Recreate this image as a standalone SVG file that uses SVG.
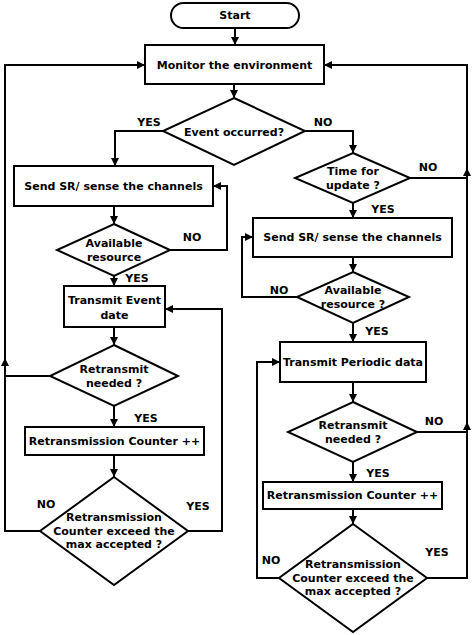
<svg xmlns="http://www.w3.org/2000/svg" width="474" height="635" viewBox="0 0 474 635">
<defs>
<marker id="ah" markerUnits="userSpaceOnUse" markerWidth="9" markerHeight="9" refX="8" refY="4" orient="auto">
<path d="M0,0 L8,4 L0,8 z" fill="#000"/>
</marker>
<style>
.s{fill:#fff;stroke:#000;stroke-width:2}
.c{fill:none;stroke:#000;stroke-width:2}
.a{marker-end:url(#ah)}
text{font-family:"DejaVu Sans",Verdana,sans-serif;font-weight:bold;font-size:11px;fill:#000;text-anchor:middle;dominant-baseline:central}
</style>
</defs>
<rect width="474" height="635" fill="#fff"/>
<g id="connectors">
<path class="c a" d="M235,28 V45"/>
<path class="c a" d="M234,84 V98"/>
<path class="c a" d="M163,131 H115 V166"/>
<path class="c a" d="M305,131 H353 V153"/>
<path class="c a" d="M114,206 V224"/>
<path class="c a" d="M170,250 H227 V186 H213"/>
<path class="c a" d="M114,276 V286"/>
<path class="c a" d="M114,327 V345"/>
<path class="c" d="M50,376 H5"/>
<path class="c a" d="M114,406 V427"/>
<path class="c a" d="M114,455 V477"/>
<path class="c a" d="M40,531 H5 V358"/>
<path class="c a" d="M5,362 V65 H145"/>
<path class="c a" d="M188,531 H222 V309 H165"/>
<path class="c a" d="M353,203 V218"/>
<path class="c a" d="M353,257 V272"/>
<path class="c a" d="M297,297 H242 V237 H253"/>
<path class="c a" d="M353,323 V342"/>
<path class="c a" d="M353,382 V402"/>
<path class="c" d="M417,432 H467"/>
<path class="c a" d="M353,462 V482"/>
<path class="c a" d="M353,509 V524"/>
<path class="c a" d="M279,578 H257 V362 H280"/>
<path class="c a" d="M427,578 H467 V422"/>
<path class="c a" d="M467,426 V168"/>
<path class="c a" d="M467,172 V65 H324"/>
<path class="c" d="M410,178 H467"/>
</g>
<g id="labels">
<text x="149" y="122">YES</text>
<text x="323" y="122">NO</text>
<text x="192" y="237">NO</text>
<text x="137" y="278">YES</text>
<text x="146" y="418">YES</text>
<text x="46" y="504">NO</text>
<text x="198" y="506">YES</text>
<text x="428" y="167">NO</text>
<text x="383" y="209">YES</text>
<text x="279" y="290">NO</text>
<text x="377" y="331">YES</text>
<text x="434" y="421">NO</text>
<text x="378" y="473">YES</text>
<text x="271" y="560">NO</text>
<text x="437" y="552">YES</text>
</g>
<g id="start">
<rect class="s" x="171" y="3" width="128" height="25" rx="12.5"/>
<text x="235" y="15.5">Start</text>
</g>
<g id="monitor">
<rect class="s" x="145" y="45" width="179" height="39"/>
<text x="234.5" y="65">Monitor the environment</text>
</g>
<g id="event">
<polygon class="s" points="234,98 305,131 234,165 163,131"/>
<text x="234" y="132">Event occurred?</text>
</g>
<g id="sendL">
<rect class="s" x="14" y="166" width="199" height="40"/>
<text x="113.5" y="186">Send SR/ sense the channels</text>
</g>
<g id="availL">
<polygon class="s" points="114,224 170,250 114,276 57,250"/>
<text x="114" y="243">Available</text>
<text x="114" y="257">resource</text>
</g>
<g id="transEvent">
<rect class="s" x="64" y="286" width="101" height="41"/>
<text x="114.5" y="300">Transmit Event</text>
<text x="114.5" y="315">date</text>
</g>
<g id="retransL">
<polygon class="s" points="114,345 178,376 114,406 50,376"/>
<text x="114" y="369">Retransmit</text>
<text x="114" y="383">needed ?</text>
</g>
<g id="counterL">
<rect class="s" x="25" y="427" width="179" height="28"/>
<text x="114.5" y="441">Retransmission Counter ++</text>
</g>
<g id="exceedL">
<polygon class="s" points="114,477 188,531 114,585 40,531"/>
<text x="114" y="517">Retransmission</text>
<text x="114" y="531">Counter exceed the</text>
<text x="114" y="544">max accepted ?</text>
</g>
<g id="timeUpdate">
<polygon class="s" points="353,153 410,178 353,203 295,178"/>
<text x="353" y="171">Time for</text>
<text x="353" y="185">update ?</text>
</g>
<g id="sendR">
<rect class="s" x="253" y="218" width="199" height="39"/>
<text x="352.5" y="237.5">Send SR/ sense the channels</text>
</g>
<g id="availR">
<polygon class="s" points="353,272 409,297 353,323 297,297"/>
<text x="353" y="290">Available</text>
<text x="353" y="304">resource ?</text>
</g>
<g id="transPeriodic">
<rect class="s" x="280" y="342" width="146" height="40"/>
<text x="353" y="362">Transmit Periodic data</text>
</g>
<g id="retransR">
<polygon class="s" points="353,402 417,432 353,462 288,432"/>
<text x="353" y="425">Retransmit</text>
<text x="353" y="439">needed ?</text>
</g>
<g id="counterR">
<rect class="s" x="263" y="482" width="179" height="27"/>
<text x="352.5" y="495.5">Retransmission Counter ++</text>
</g>
<g id="exceedR">
<polygon class="s" points="353,524 427,578 353,632 279,578"/>
<text x="353" y="564">Retransmission</text>
<text x="353" y="578">Counter exceed the</text>
<text x="353" y="591">max accepted ?</text>
</g>
</svg>
